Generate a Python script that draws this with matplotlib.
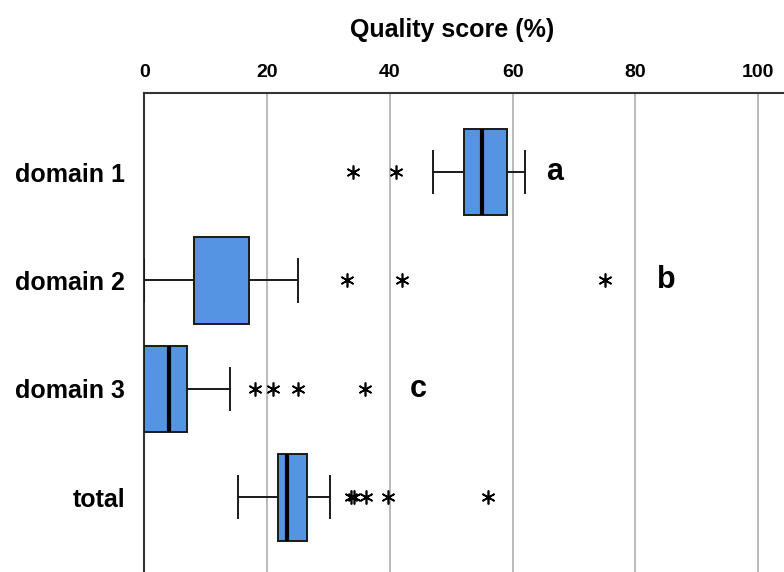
import matplotlib
matplotlib.use("Agg")
import matplotlib.pyplot as plt

# values (quality score in %)
labels = ["domain 1", "domain 2", "domain 3", "total"]
q1 = [52.0, 8.0, 0.0, 21.7]
med = [55.0, 8.0, 4.0, 23.2]
q3 = [59.1, 17.0, 7.0, 26.4]
whislo = [47.0, 0.0, 0.0, 15.3]
whishi = [62.0, 25.0, 14.0, 30.3]
outliers = [
    [34.0, 41.0],
    [33.0, 42.0, 75.0],
    [18.0, 21.0, 25.0, 36.0],
    [33.6, 34.2, 36.1, 39.6, 56.0],
]
group_letters = ["a", "b", "c", ""]
letter_x = [65.4, 83.5, 43.2, None]

plt.rcParams["font.family"] = ["Liberation Sans", "DejaVu Sans"]

stats = []
for i in range(len(labels)):
    stats.append({
        "label": labels[i], "q1": q1[i], "med": med[i], "q3": q3[i],
        "whislo": whislo[i], "whishi": whishi[i], "fliers": outliers[i],
    })

fig = plt.figure(figsize=(7.84, 5.72), dpi=100)
ax = fig.add_axes([0.1843, 0.0, 0.8157, 0.8374])

positions = list(range(1, len(labels) + 1))
parts = ax.bxp(
    stats, positions=positions, vert=False, widths=0.8, patch_artist=True,
    boxprops=dict(facecolor="#5594e2", edgecolor="#1a1a1a", linewidth=1.4),
    medianprops=dict(color="black", linewidth=3.0),
    whiskerprops=dict(color="#1a1a1a", linewidth=1.4),
    capprops=dict(color="#1a1a1a", linewidth=1.4),
    capwidths=0.39,
    flierprops=dict(marker=(6, 2, 0), markersize=10, markeredgecolor="black",
                    markeredgewidth=1.2, linestyle="none"),
    zorder=3,
)
# domain 2: median sits on the box edge, drawn no thicker than the edge
parts["medians"][1].set_linewidth(1.4)
parts["medians"][1].set_color("#1a1a1a")

for i, letter in enumerate(group_letters):
    if letter:
        ax.text(letter_x[i], positions[i], letter, ha="left", va="center",
                fontsize=22, fontweight="bold")

ax.set_xlim(0, 104.2)
ax.set_ylim(4.69, 0.27)
ax.set_xticks([0, 20, 40, 60, 80, 100])
ax.xaxis.tick_top()
ax.tick_params(axis="x", length=0, pad=9, labelsize=14)
ax.tick_params(axis="y", length=0, pad=14, labelsize=18)
for lab in ax.get_xticklabels() + ax.get_yticklabels():
    lab.set_fontweight("bold")
ax.set_yticks(positions)
ax.set_yticklabels(labels)

ax.grid(True, axis="x", color="#b4b4b4", linewidth=1.3, zorder=0)
ax.set_axisbelow(True)
ax.spines["right"].set_visible(False)
ax.spines["bottom"].set_visible(False)
ax.spines["left"].set_color("#333333")
ax.spines["top"].set_color("#333333")
ax.spines["left"].set_linewidth(1.5)
ax.spines["top"].set_linewidth(1.5)

fig.text(0.5773, 1 - 30 / 572, "Quality score (%)", ha="center", va="center",
         fontsize=18, fontweight="bold")

fig.savefig("out.png", dpi=100)
